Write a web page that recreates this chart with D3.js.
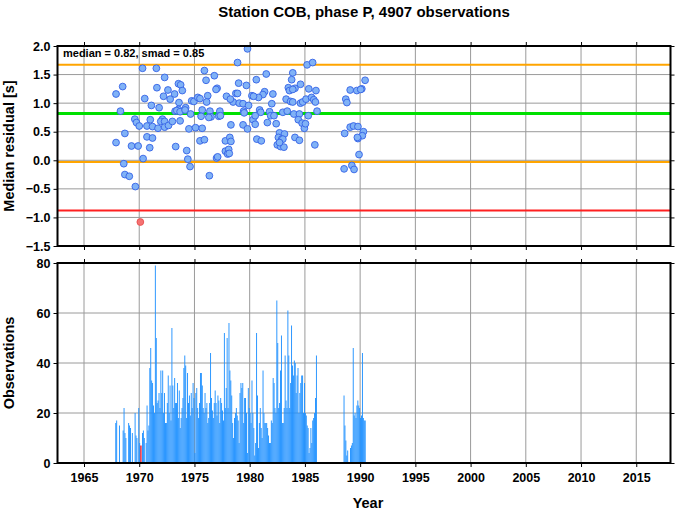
<!DOCTYPE html>
<html><head><meta charset="utf-8">
<script src="https://cdn.jsdelivr.net/npm/d3@7"></script>
<style>
body{margin:0;background:#fff}
svg{display:block}
text{font-family:"Liberation Sans",Arial,Helvetica,sans-serif;font-weight:bold;fill:#000}
</style>
</head><body>
<svg id="c" width="678" height="511"></svg>
<script>
const titleText = "Station COB, phase P, 4907 observations";
const medianVal = 0.82;
const smadVal = 0.85;
const xTicks = [1965,1970,1975,1980,1985,1990,1995,2000,2005,2010,2015];
const resTicks = [-1.5,-1.0,-0.5,0.0,0.5,1.0,1.5,2.0];
const obsTicks = [0,20,40,60,80];

const ptYears = [
1979.8,1970.3,1971.55,1978.9,1975.9,1976.8,1976.05,1972.3,1968.5,1967.9,1970.5,1971.6,1973.55,1973.75,1972.6,1972.2,1973.9,1973.2,1972.8,1973.6,
1971.1,1971.8,1974.75,1974.95,1975.3,1975.5,1976.2,1976.1,1977.05,1976.95,1977.9,1978.5,1978.75,1978.9,1979.0,1979.7,1979.05,1979.4,1979.9,1968.3,
1969.6,1969.75,1970.0,1971.0,1970.7,1971.2,1971.7,1972.1,1971.95,1972.3,1972.3,1972.65,1973.0,1973.25,1973.55,1973.4,1973.7,1973.7,1974.2,1974.15,
1974.65,1974.5,1975.1,1975.7,1975.7,1975.6,1976.4,1976.5,1976.3,1977.3,1977.2,1977.35,1978.3,1979.45,1979.5,1979.4,1979.8,1968.7,1967.9,1969.3,
1969.9,1970.7,1971.2,1970.95,1970.35,1973.3,1974.3,1974.4,1974.6,1975.5,1975.9,1977.0,1977.1,1977.8,1978.1,1978.0,1978.15,1977.8,1978.2,1978.3,
1976.35,1968.6,1968.7,1969.1,1969.65,
1981.5,1983.9,1983.8,1985.2,1985.7,1980.6,1983.5,1983.6,1984.1,1984.6,1983.9,1985.35,1986.0,1981.35,1981.2,1980.8,1980.2,1980.35,1982.1,1983.3,
1983.7,1983.9,1982.0,1984.6,1984.8,1985.1,1985.6,1985.8,1985.95,1978.25,1988.7,1988.8,1989.1,1989.7,1990.15,1990.45,1990.05,1980.9,1981.0,1981.8,
1981.9,1982.2,1983.0,1983.4,1984.0,1984.5,1985.3,1986.1,1980.3,1980.5,1980.5,1981.6,1982.4,1984.4,1984.75,1984.95,1985.05,1982.7,1983.15,1982.6,
1982.9,1983.0,1980.65,1981.05,1982.5,1982.8,1983.1,1982.7,1984.1,1984.5,1985.9,1988.6,1989.1,1989.4,1989.8,1990.3,1990.2,1989.8,1989.75,1989.9,
1988.55,1989.25,1989.45
];
const ptValues = [
1.95,1.61,1.61,1.71,1.57,1.48,1.40,1.45,1.29,1.16,1.08,1.27,1.34,1.32,1.23,1.12,1.22,1.16,1.07,1.01,
0.96,0.92,1.04,1.03,1.10,1.08,1.13,1.02,1.26,1.24,1.12,1.02,1.17,1.17,1.35,1.31,1.00,0.99,0.96,0.86,
0.72,0.66,0.60,0.71,0.60,0.59,0.56,0.72,0.68,0.68,0.58,0.61,0.68,0.86,0.89,0.87,0.85,0.69,0.92,0.88,
0.81,0.55,0.57,0.56,0.88,0.77,0.86,0.76,0.75,0.86,0.77,0.78,0.62,0.86,0.83,0.62,0.55,0.47,0.31,0.25,
0.25,0.41,0.39,0.22,0.03,0.24,0.17,0.02,-0.11,0.34,0.36,0.04,0.06,0.16,0.19,0.11,0.12,0.34,0.40,0.33,
-0.27,-0.06,-0.25,-0.28,-0.46,
1.51,1.53,1.41,1.67,1.71,1.41,1.27,1.22,1.26,1.33,1.24,1.25,1.22,1.20,1.15,1.10,1.13,1.12,1.16,1.07,
1.03,1.02,0.99,1.00,1.02,1.07,1.10,1.06,1.02,1.07,1.07,1.01,1.23,1.22,1.25,1.40,1.24,0.88,0.84,0.85,
0.78,0.78,0.84,0.86,0.81,0.81,0.78,0.86,0.71,0.78,0.63,0.66,0.64,0.71,0.65,0.56,0.64,0.48,0.46,0.40,
0.37,0.37,0.37,0.34,0.27,0.24,0.23,0.31,0.40,0.35,0.27,0.47,0.58,0.60,0.59,0.50,0.43,0.38,0.40,0.10,
-0.15,-0.09,-0.16
];
const outYears = [1970.1];
const outValues = [-1.08];

// monthly observation counts starting at obsStart
const obsStart = 1967.75;
const obsCounts = [
0,16,17,0,0,15,0,0,0,13,22,12,10,0,0,16,15,14,0,12,
0,0,20,11,10,0,22,8,7,0,12,13,10,0,8,23,13,15,38,46,
33,32,23,20,79,50,24,25,28,22,37,28,37,20,28,16,16,24,35,20,
31,17,54,31,22,34,24,24,32,18,29,14,18,22,26,38,43,39,18,36,
24,27,19,28,22,32,26,4,28,30,22,18,24,36,36,31,22,20,28,22,
24,16,18,24,44,26,21,18,24,29,24,19,27,25,16,26,24,21,17,52,
22,30,50,22,56,37,33,27,16,10,18,20,22,19,17,8,28,32,30,32,
16,26,26,20,4,30,22,20,16,33,20,14,3,8,52,27,6,16,22,14,
10,37,20,16,16,16,14,11,8,8,17,16,34,32,22,20,65,48,22,24,
37,51,16,16,22,43,25,22,61,43,22,32,55,39,35,41,40,28,35,38,
20,28,32,35,35,20,32,20,19,15,14,4,6,14,8,17,18,20,26,43,
0,0,0,0,0,0,0,0,0,0,0,0,0,0,0,0,0,0,0,0,
0,0,0,0,0,0,0,0,0,27,15,9,3,5,0,0,6,7,8,46,
19,20,18,23,25,23,22,18,19,44,18,17,17
];
const redBins = [28];

const svg = d3.select("#c");
const L = 57.5, R = 670.5;
const x = d3.scaleLinear().domain([1962.6, 2018.1]).range([L, R]);
const yTop = d3.scaleLinear().domain([-1.5, 2.0]).range([246, 46]);
const yBot = d3.scaleLinear().domain([0, 80]).range([463, 263]);

// title
svg.append("text").attr("x", 364).attr("y", 17).attr("text-anchor","middle")
  .style("font-size","15px").text(titleText);

function panel(y, yTicks, g) {
  g.append("g").selectAll("line").data(xTicks).join("line")
    .attr("x1", d=>x(d)).attr("x2", d=>x(d))
    .attr("y1", y.range()[1]).attr("y2", y.range()[0])
    .attr("stroke","#9a9a9a").attr("stroke-width",1);
  g.append("g").selectAll("line").data(yTicks.slice(1,-1)).join("line")
    .attr("x1", L).attr("x2", R)
    .attr("y1", d=>y(d)).attr("y2", d=>y(d))
    .attr("stroke","#9a9a9a").attr("stroke-width",1);
}
function frame(y, yTicks, fmt, showX) {
  const g = svg.append("g");
  const bottom = y.range()[0], top = y.range()[1];
  g.append("g").attr("transform",`translate(${L},0)`)
    .call(d3.axisLeft(y).tickValues(yTicks).tickFormat(fmt).tickSize(4).tickPadding(3));
  g.append("g").attr("transform",`translate(${R},0)`)
    .call(d3.axisRight(y).tickValues(yTicks).tickFormat("").tickSize(4));
  g.append("g").attr("transform",`translate(0,${bottom})`)
    .call(d3.axisBottom(x).tickValues(xTicks).tickFormat(showX ? d3.format("d") : "").tickSize(4).tickPadding(6));
  g.append("g").attr("transform",`translate(0,${top})`)
    .call(d3.axisTop(x).tickValues(xTicks).tickFormat("").tickSize(4));
  g.selectAll(".domain").remove();
  g.selectAll(".tick line").attr("stroke","#000").attr("stroke-width",1);
  g.selectAll(".tick text").style("font-size","12.5px").style("font-family",'"Liberation Sans",Arial,sans-serif').style("font-weight","bold").attr("fill","#000");
  g.append("rect").attr("x", L).attr("y", top).attr("width", R-L).attr("height", bottom-top)
    .attr("fill","none").attr("stroke","#000").attr("stroke-width",2);
}

// ---- top panel
const gT = svg.append("g");
panel(yTop, resTicks, gT);
const refLines = [
  {v: medianVal + smadVal, c: "#ffa500", w: 2},
  {v: medianVal - smadVal, c: "#ffa500", w: 2},
  {v: medianVal, c: "#00e000", w: 3},
  {v: medianVal - 2*smadVal, c: "#ff2020", w: 2}
];
gT.append("g").selectAll("line").data(refLines).join("line")
  .attr("x1", L).attr("x2", R).attr("y1", d=>yTop(d.v)).attr("y2", d=>yTop(d.v))
  .attr("stroke", d=>d.c).attr("stroke-width", d=>d.w);
gT.append("g").selectAll("circle").data(ptYears.map((d,i)=>[d, ptValues[i]])).join("circle")
  .attr("cx", d=>x(d[0])).attr("cy", d=>yTop(d[1])).attr("r", 3.4)
  .attr("fill","#80b2f6").attr("stroke","#3462e6").attr("stroke-width",0.9);
gT.append("g").selectAll("circle").data(outYears.map((d,i)=>[d, outValues[i]])).join("circle")
  .attr("cx", d=>x(d[0])).attr("cy", d=>yTop(d[1])).attr("r", 3.4)
  .attr("fill","#f57272").attr("stroke","#e85050").attr("stroke-width",0.9);
gT.append("text").attr("x", 63).attr("y", 57).style("font-size","11px")
  .text(`median = ${medianVal.toFixed(2)}, smad = ${smadVal.toFixed(2)}`);
frame(yTop, resTicks, d3.format(".1f"), false);

// ---- bottom panel
const gB = svg.append("g");
panel(yBot, obsTicks, gB);
const bins = obsCounts.map((c,i)=>({i, c, y0: obsStart + i/12, y1: obsStart + (i+1)/12}));
gB.append("g").selectAll("rect").data(bins.filter(d=>d.c>0 && !redBins.includes(d.i))).join("rect")
  .attr("x", d=>x(d.y0)).attr("width", d=>x(d.y1)-x(d.y0))
  .attr("y", d=>yBot(d.c)).attr("height", d=>yBot(0)-yBot(d.c))
  .attr("fill", "#1e90ff");
gB.append("g").selectAll("rect").data(bins.filter(d=>d.c>0 && redBins.includes(d.i))).join("rect")
  .attr("x", d=>x(d.y0)).attr("width", 1.5)
  .attr("y", d=>yBot(d.c)).attr("height", d=>yBot(0)-yBot(d.c))
  .attr("fill", "#e8283c");
frame(yBot, obsTicks, d3.format("d"), true);

// axis labels
svg.append("text").attr("transform","translate(14,146) rotate(-90)").attr("text-anchor","middle")
  .style("font-size","14.5px").text("Median residual [s]");
svg.append("text").attr("transform","translate(14,363) rotate(-90)").attr("text-anchor","middle")
  .style("font-size","14.5px").text("Observations");
svg.append("text").attr("x", 368).attr("y", 508).attr("text-anchor","middle")
  .style("font-size","14.5px").text("Year");
</script>
</body></html>
